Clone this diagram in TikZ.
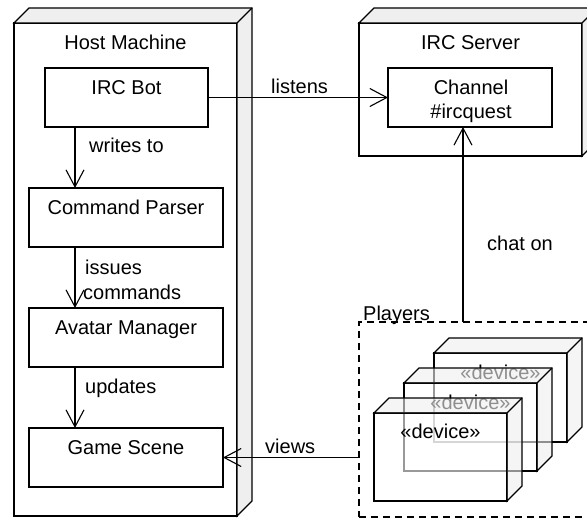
\documentclass[tikz,border=0pt]{standalone}
\usepackage{fontspec}
\setmainfont{Liberation Sans}
\usetikzlibrary{arrows.meta,calc}
\definecolor{sidegray}{HTML}{EFEFEF}
\newcommand\boxfaces[3][]{%
  \draw[face,#1] (#2.north west) -- ++(#3pt,#3pt) -- ($(#2.north east)+(#3pt,#3pt)$)
     -- ($(#2.south east)+(#3pt,#3pt)$) -- (#2.south east) -- (#2.north east) -- cycle;
  \draw[edge] (#2.north east) -- ++(#3pt,#3pt);
}
\begin{document}
\begin{tikzpicture}[x=1pt,y=-1pt,
  font=\fontsize{20}{23.5}\selectfont,
  edge/.style={draw=black, line width=1.1pt},
  face/.style={edge, fill=sidegray, line join=miter},
  frontface/.style={rectangle, draw=black, line width=1.1pt, fill=white,
     inner sep=0pt, outer sep=0pt, anchor=north west},
  devface/.style={frontface, fill opacity=0.6, text opacity=1},
  txt/.style={inner sep=0pt, anchor=base},
  lbl/.style={inner sep=0pt, anchor=base west},
  arr/.style={edge, -{Straight Barb[length=17pt,width=18pt]}},
  players/.style={rectangle, draw=black, line width=1.1pt, dash pattern=on 7pt off 5pt,
     inner sep=0pt, outer sep=0pt, anchor=north west}]
\useasboundingbox (0,0) rectangle (587,519);
\clip (0,0) rectangle (587,519);
\fill[white] (0,0) rectangle (587,519);

% Host machine
\node[frontface, minimum width=223pt, minimum height=493pt] (host) at (14,23) {};
\boxfaces{host}{15}
\node[txt] (hostlbl) at ($(host.north)+(0,27)$) {Host Machine};

\node[frontface, minimum width=163pt, minimum height=59pt] (bot) at (45,68) {};
\node[txt] (botlbl) at ($(bot.north)+(0,26.5)$) {IRC Bot};
\node[frontface, minimum width=194pt, minimum height=59pt] (parser) at (29,188) {};
\node[txt] (parserlbl) at ($(parser.north)+(0,26.5)$) {Command Parser};
\node[frontface, minimum width=194pt, minimum height=59pt] (avatar) at (29,308) {};
\node[txt] (avatarlbl) at ($(avatar.north)+(0,26.5)$) {Avatar Manager};
\node[frontface, minimum width=194pt, minimum height=59pt] (scene) at (29,428) {};
\node[txt] (scenelbl) at ($(scene.north)+(0,26.5)$) {Game Scene};

% IRC server
\node[frontface, minimum width=223pt, minimum height=133pt] (server) at (359,23) {};
\boxfaces{server}{15}
\node[txt] (serverlbl) at ($(server.north)+(0,27)$) {IRC Server};
\node[frontface, minimum width=164pt, minimum height=59pt] (channel) at (388,68) {};
\node[txt] (chan1) at ($(channel.north)+(1,27)$) {Channel};
\node[txt] (chan2) at ($(channel.north)+(1,50.5)$) {\#ircquest};

% Players
\node[players, minimum width=240pt, minimum height=195pt] (players) at (359,322) {};
\node[lbl] (playerslbl) at (363,320) {Players};

\node[devface, minimum width=133pt, minimum height=89pt] (dev3) at (434,353) {};
\node[txt] (dev3lbl) at ($(dev3.north)+(0,26)$) {«device»};
\boxfaces[fill opacity=0.6]{dev3}{15}
\node[devface, minimum width=133pt, minimum height=88pt] (dev2) at (404,383) {};
\node[txt] (dev2lbl) at ($(dev2.north)+(0,26)$) {«device»};
\boxfaces[fill opacity=0.6]{dev2}{15}
\node[devface, minimum width=133pt, minimum height=88pt] (dev1) at (374,413) {};
\boxfaces[fill opacity=0.6]{dev1}{15}
\node[txt] (dev1lbl) at ($(dev1.north)+(0,25)$) {«device»};

% connectors
\coordinate (vx) at (75,0);
\coordinate (cx) at (463,0);
\draw[arr] (bot.south -| vx) -- (parser.north -| vx);
\draw[arr] (parser.south -| vx) -- (avatar.north -| vx);
\draw[arr] (avatar.south -| vx) -- (scene.north -| vx);
\draw[arr] (bot.east) -- (channel.west);
\draw[arr] (players.north -| cx) -- (channel.south -| cx);
\draw[arr] (players.west |- scene.east) -- (scene.east);

% connector labels
\node[lbl] (l1) at (89,153) {writes to};
\node[lbl] (l2a) at (85,274) {issues};
\node[lbl] (l2b) at (83,299) {commands};
\node[lbl] (l3) at (85,393) {updates};
\node[lbl] (l4) at (271,94) {listens};
\node[lbl] (l5) at (265,453) {views};
\node[lbl] (l6) at (487,250) {chat on};
\end{tikzpicture}
\end{document}
